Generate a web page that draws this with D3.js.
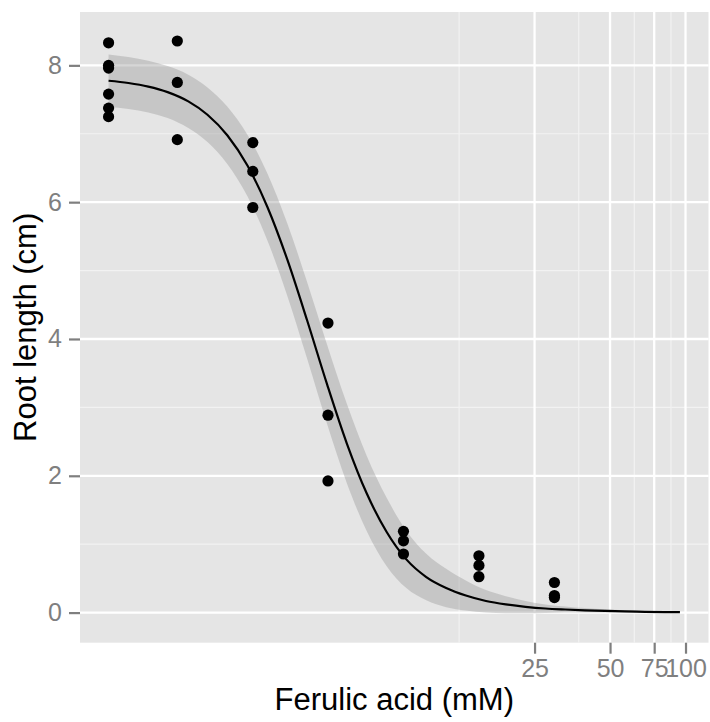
<!DOCTYPE html>
<html>
<head>
<meta charset="utf-8">
<script src="https://cdn.jsdelivr.net/npm/d3@7"></script>
<style>
  html, body { margin: 0; padding: 0; background: #fff; }
  svg { display: block; }
  text { font-family: "Liberation Sans", Arial, sans-serif; }
</style>
</head>
<body>
<svg id="chart" width="710" height="722"></svg>
<script>
// ---- Data ----
// observed points: concentration 0 shown at 0.5 on the log axis
const pointDose = [0.5, 0.5, 0.5, 0.5, 0.5, 0.5,
                   0.94, 0.94, 0.94,
                   1.88, 1.88, 1.88,
                   3.75, 3.75, 3.75,
                   7.5, 7.5, 7.5,
                   15, 15, 15,
                   30, 30, 30];
const pointRoot = [7.58, 8.00, 8.33, 7.25, 7.375, 7.96,
                   8.356, 6.914, 7.75,
                   6.871, 6.45, 5.922,
                   1.925, 2.886, 4.233,
                   1.1875, 0.857, 1.05,
                   0.69, 0.525, 0.83,
                   0.25, 0.22, 0.44];

// fitted curve and its confidence band
const curveDose  = [0.5, 0.6, 0.72, 0.86, 1.04, 1.24, 1.49, 1.79, 2.15, 2.58, 3.1, 3.72, 4.46, 5.35, 6.42, 7.7, 9.25, 11.1, 13.3, 16, 19.2, 23, 27.6, 33.1, 39.7, 47.7, 57.2, 68.7, 82.4, 95];
const curveFit   = [7.775, 7.742, 7.690, 7.609, 7.473, 7.278, 6.975, 6.535, 5.930, 5.163, 4.266, 3.336, 2.472, 1.744, 1.182, 0.778, 0.52, 0.36, 0.25, 0.17, 0.12, 0.085, 0.06, 0.045, 0.033, 0.024, 0.017, 0.012, 0.008, 0.006];
const curveUpper = [8.16, 8.122, 8.068, 7.989, 7.863, 7.678, 7.395, 6.985, 6.42, 5.693, 4.826, 3.916, 3.052, 2.294, 1.682, 1.198, 0.86, 0.64, 0.47, 0.33, 0.24, 0.17, 0.12, 0.09, 0.066, 0.048, 0.034, 0.024, 0.016, 0.012];
const curveLower = [7.39, 7.362, 7.312, 7.229, 7.083, 6.878, 6.555, 6.085, 5.44, 4.633, 3.706, 2.756, 1.892, 1.194, 0.682, 0.358, 0.18, 0.08, 0.03, 0.0, -0.01, -0.01, -0.005, 0.0, 0.0, 0.0, 0.0, 0.0, 0.0, 0.0];

const xTicks = [25, 50, 75, 100];
const xMinorTicks = [12.5, 37.5, 62.5, 87.5];
const yTicks = [0, 2, 4, 6, 8];
const yMinorTicks = [1, 3, 5, 7];
const xTitle = "Ferulic acid (mM)";
const yTitle = "Root length (cm)";

// ---- Layout ----
const W = 710, H = 722;
const panel = { left: 80, right: 708.5, top: 12, bottom: 642.7 };

const svg = d3.select("#chart");
svg.append("rect").attr("width", W).attr("height", H).attr("fill", "#fff");

// x: log scale, domain expanded 5% in log space around the data
const lx0 = Math.log10(d3.min(pointDose.concat(curveDose)));
const lx1 = Math.log10(d3.max(pointDose.concat(curveDose)));
const ex = (lx1 - lx0) * 0.05;
const x = d3.scaleLog()
  .domain([Math.pow(10, lx0 - ex), Math.pow(10, lx1 + ex)])
  .range([panel.left, panel.right]);

const y = d3.scaleLinear()
  .domain([-0.44, 8.78])
  .range([panel.bottom, panel.top]);

// panel background
svg.append("rect")
  .attr("x", panel.left).attr("y", panel.top)
  .attr("width", panel.right - panel.left)
  .attr("height", panel.bottom - panel.top)
  .attr("fill", "#E5E5E5");

const grid = svg.append("g");
// minor grid
grid.selectAll(".ymin").data(yMinorTicks).enter().append("line")
  .attr("x1", panel.left).attr("x2", panel.right)
  .attr("y1", d => y(d)).attr("y2", d => y(d))
  .attr("stroke", "#F2F2F2").attr("stroke-width", 1.2);
grid.selectAll(".xmin").data(xMinorTicks).enter().append("line")
  .attr("y1", panel.top).attr("y2", panel.bottom)
  .attr("x1", d => x(d)).attr("x2", d => x(d))
  .attr("stroke", "#F2F2F2").attr("stroke-width", 1.2);
// major grid
grid.selectAll(".ymaj").data(yTicks).enter().append("line")
  .attr("x1", panel.left).attr("x2", panel.right)
  .attr("y1", d => y(d)).attr("y2", d => y(d))
  .attr("stroke", "#FFFFFF").attr("stroke-width", 2.3);
grid.selectAll(".xmaj").data(xTicks).enter().append("line")
  .attr("y1", panel.top).attr("y2", panel.bottom)
  .attr("x1", d => x(d)).attr("x2", d => x(d))
  .attr("stroke", "#FFFFFF").attr("stroke-width", 2.3);

// confidence band
const bandData = curveDose.map((d, i) => ({ d, lo: curveLower[i], hi: curveUpper[i], f: curveFit[i] }));
svg.append("path")
  .datum(bandData)
  .attr("d", d3.area()
    .x(p => x(p.d))
    .y0(p => y(p.lo))
    .y1(p => y(p.hi))
    .curve(d3.curveMonotoneX))
  .attr("fill", "#999999").attr("fill-opacity", 0.4);

// fitted line
svg.append("path")
  .datum(bandData)
  .attr("d", d3.line()
    .x(p => x(p.d))
    .y(p => y(p.f))
    .curve(d3.curveMonotoneX))
  .attr("fill", "none").attr("stroke", "#000").attr("stroke-width", 2.2);

// points
svg.append("g").selectAll("circle")
  .data(pointDose.map((d, i) => ({ d, v: pointRoot[i] })))
  .enter().append("circle")
  .attr("cx", p => x(p.d)).attr("cy", p => y(p.v))
  .attr("r", 5.6).attr("fill", "#000");

// y axis
const yAxis = d3.axisLeft(y).tickValues(yTicks).tickSize(11).tickPadding(7).tickFormat(d3.format("d"));
const gy = svg.append("g").attr("transform", `translate(${panel.left},0)`).call(yAxis);
gy.select(".domain").remove();
gy.selectAll(".tick line").attr("stroke", "#7F7F7F").attr("stroke-width", 2.2);
gy.selectAll(".tick text").attr("fill", "#7F7F7F").attr("font-size", 25)
  .attr("font-family", "'Liberation Sans', Arial, sans-serif");

// x axis
const xAxis = d3.axisBottom(x).tickValues(xTicks).tickSize(11).tickPadding(6).tickFormat(d3.format("d"));
const gx = svg.append("g").attr("transform", `translate(0,${panel.bottom})`).call(xAxis);
gx.select(".domain").remove();
gx.selectAll(".tick line").attr("stroke", "#7F7F7F").attr("stroke-width", 2.2);
gx.selectAll(".tick text").attr("fill", "#7F7F7F").attr("font-size", 25)
  .attr("font-family", "'Liberation Sans', Arial, sans-serif");

// titles
svg.append("text")
  .attr("x", (panel.left + panel.right) / 2).attr("y", 710)
  .attr("text-anchor", "middle").attr("font-size", 31).attr("fill", "#000")
  .text(xTitle);
svg.append("text")
  .attr("transform", `translate(36,${(panel.top + panel.bottom) / 2}) rotate(-90)`)
  .attr("text-anchor", "middle").attr("font-size", 31).attr("fill", "#000")
  .text(yTitle);
</script>
</body>
</html>
